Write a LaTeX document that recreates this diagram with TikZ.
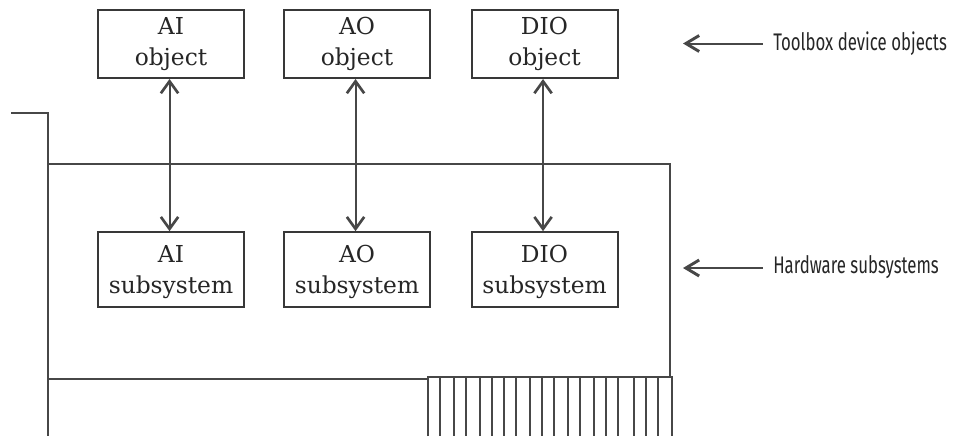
\documentclass[tikz,border=0pt]{standalone}
\usepackage{fontspec}
\usetikzlibrary{arrows.meta}
\newfontfamily\boxfont{DejaVu Serif}
\newfontfamily\labfont[FakeStretch=0.7]{Fira Sans}
\tikzset{
  x=0.75pt,y=-0.75pt,
  wire/.style={line width=1.5pt,black!72},
  blockbox/.style={draw=black!78,line width=1.5pt,minimum width=109.5pt,align=center,inner sep=0pt,text=black!85,font=\boxfont\fontsize{17.5}{23.5}\selectfont},
  linkarrow/.style={wire,{Straight Barb[length=9pt,width=13pt,line width=2pt]}-{Straight Barb[length=9pt,width=13pt,line width=2pt]}},
  notearrow/.style={wire,{Straight Barb[length=10pt,width=12pt,line width=2.2pt]}-},
  notelabel/.style={anchor=base west,inner sep=0pt,font=\labfont\fontsize{18}{20}\selectfont,text=black!85}
}
\begin{document}
\begin{tikzpicture}
\useasboundingbox (0,0) rectangle (956,436);
\fill[white] (0,0) rectangle (956,436);
\foreach \n/\xc/\t in {aiobj/171/AI,aoobj/357/AO,dioobj/544.5/DIO}
  \node[blockbox,minimum height=51pt] (\n) at (\xc,44) {\t\\object};
\foreach \n/\xc/\t in {aisub/171/AI,aosub/357/AO,diosub/544.5/DIO}
  \node[blockbox,minimum height=56pt] (\n) at (\xc,269.5) {\rule{0pt}{16.5pt}\t\\subsystem};
\draw[linkarrow] ([xshift=-1.1pt]aiobj.south) -- ([xshift=-1.1pt]aisub.north);
\draw[linkarrow] ([xshift=-1.1pt]aoobj.south) -- ([xshift=-1.1pt]aosub.north);
\draw[linkarrow] ([xshift=-1.1pt]dioobj.south) -- ([xshift=-1.1pt]diosub.north);
\coordinate (stub) at (11,112.5);
\coordinate (corner) at (48,112.5);
\coordinate (bottomleft) at (48,436);
\coordinate (topleft) at (48,164);
\coordinate (topright) at (670,164);
\coordinate (combright) at (670,376.5);
\coordinate (midleft) at (48,379);
\coordinate (midright) at (428,379);
\draw[wire] (stub) -- (corner) -- (bottomleft);
\draw[wire] (topleft) -- (topright) -- (combright);
\draw[wire] (midleft) -- (midright);
\draw[wire] (428,436) -- (428,376.5) -- (672,376.5) -- (672,436);
\foreach \x in {440,454,466,480,492,504,516,530,542,554,568,580,594,606,618,634,646,658}
  \draw[wire] (\x,376.5) -- (\x,436);
\node[notelabel] (toolbox) at (773,50.5) {Toolbox device objects};
\node[notelabel] (hardware) at (773,273) {Hardware subsystems};
\coordinate (toolboxend) at (683,43.5);
\coordinate (toolboxtail) at (763,43.5);
\coordinate (hardwareend) at (683,268);
\coordinate (hardwaretail) at (763,268);
\draw[notearrow] (toolboxend) -- (toolboxtail);
\draw[notearrow] (hardwareend) -- (hardwaretail);
\end{tikzpicture}
\end{document}
